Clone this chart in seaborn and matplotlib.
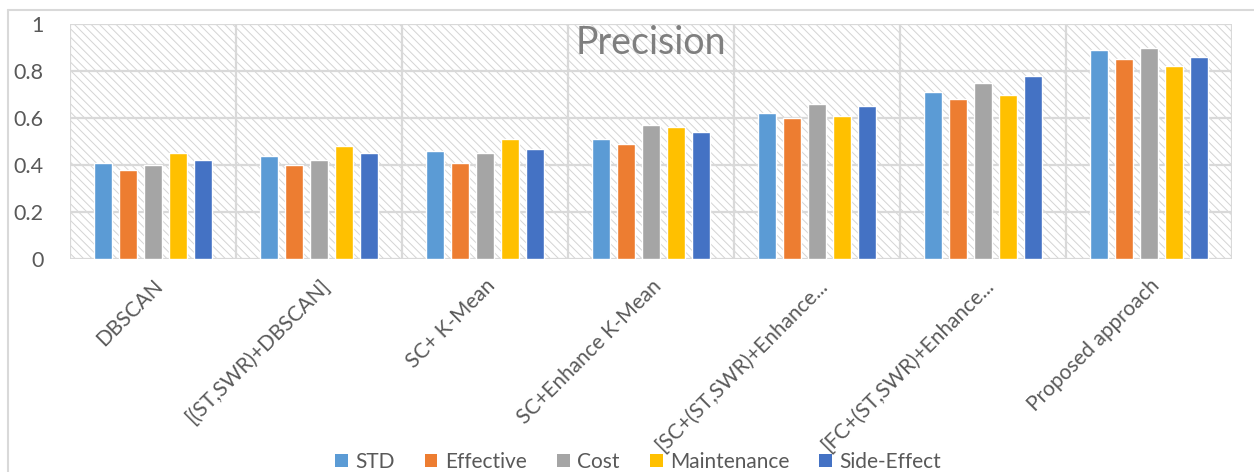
import numpy as np
import pandas as pd
import matplotlib
matplotlib.use("Agg")
import matplotlib.pyplot as plt
from matplotlib.patches import Rectangle
from matplotlib.lines import Line2D
from matplotlib.transforms import ScaledTranslation
import seaborn as sns

methods = [
    "DBSCAN",
    "[(ST,SWR)+DBSCAN]",
    "SC+ K-Mean",
    "SC+Enhance K-Mean",
    "[SC+(ST,SWR)+Enhance...",
    "[FC+(ST,SWR)+Enhance...",
    "Proposed approach",
]
metrics = ["STD", "Effective", "Cost", "Maintenance", "Side-Effect"]
std_vals = [0.41, 0.44, 0.46, 0.51, 0.62, 0.71, 0.89]
effective_vals = [0.38, 0.40, 0.41, 0.49, 0.60, 0.68, 0.85]
cost_vals = [0.40, 0.42, 0.45, 0.57, 0.66, 0.75, 0.90]
maintenance_vals = [0.45, 0.48, 0.51, 0.56, 0.61, 0.70, 0.82]
side_effect_vals = [0.42, 0.45, 0.47, 0.54, 0.65, 0.78, 0.86]
y_ticks = [0, 0.2, 0.4, 0.6, 0.8, 1]
y_tick_labels = ["0", "0.2", "0.4", "0.6", "0.8", "1"]
colors = ["#5B9BD5", "#ED7D31", "#A5A5A5", "#FFC000", "#4472C4"]

series = [std_vals, effective_vals, cost_vals, maintenance_vals, side_effect_vals]
df = pd.DataFrame(
    [(m, metric, v) for metric, vals in zip(metrics, series) for m, v in zip(methods, vals)],
    columns=["method", "metric", "value"],
)

sns.set_theme(style="white")
plt.rcParams["font.family"] = ["Lato", "DejaVu Sans"]
plt.rcParams["hatch.linewidth"] = 0.7
plt.rcParams["hatch.color"] = "#D4D4D4"

text_color = "#595959"
grid_color = "#D9D9D9"

fig = plt.figure(figsize=(12.54, 4.72), dpi=100)
ax = fig.add_axes([70 / 1254, 1 - 259 / 472, (1232 - 70) / 1254, (259 - 24) / 472])

# chart frame
fig.add_artist(Line2D([8 / 1254, 8 / 1254], [0, 1 - 10 / 472], transform=fig.transFigure,
                      color=grid_color, lw=1.5))
fig.add_artist(Line2D([8 / 1254, 1], [1 - 10 / 472, 1 - 10 / 472], transform=fig.transFigure,
                      color=grid_color, lw=1.5))

# hatched plot area
ax.set_facecolor("white")
ax.add_patch(Rectangle((0, 0), 1, 1, transform=ax.transAxes, facecolor="none",
                       edgecolor="#D4D4D4", hatch="\\\\\\\\", lw=0, zorder=0))

sns.barplot(data=df, x="method", y="value", hue="metric", palette=colors,
            width=0.75, gap=0.3, saturation=1, ax=ax, zorder=3, legend=True)

ax.set_xlim(-0.5, len(methods) - 0.5)
ax.set_ylim(0, 1)
ax.set_yticks(y_ticks)
ax.set_yticklabels(y_tick_labels)

# grid lines: horizontal at ticks, vertical at category boundaries
for y in y_ticks:
    ax.axhline(y, color=grid_color, lw=1.6, zorder=1)
for x in np.arange(-0.5, len(methods), 1.0):
    ax.axvline(x, color=grid_color, lw=1.6, zorder=1)
for s in ax.spines.values():
    s.set_visible(False)

ax.set_xlabel("")
ax.set_ylabel("")
ax.set_xticks(range(len(methods)))
ax.set_xticklabels(methods, rotation=45, ha="right", rotation_mode="anchor",
                   fontsize=15, color=text_color)
shift = ScaledTranslation(-4 / 100, 0, fig.dpi_scale_trans)
for lab in ax.get_xticklabels():
    lab.set_transform(lab.get_transform() + shift)
ax.tick_params(axis="x", length=0, pad=12)
ax.tick_params(axis="y", length=0, pad=19, labelsize=15.5, labelcolor=text_color)

ax.text(0.5, 0.918, "Precision", transform=ax.transAxes, ha="center", va="center",
        fontsize=27, color="#7F7F7F", zorder=5)

ax.get_legend().remove()
sq = [Rectangle((0, 0), 1, 1, facecolor=c, edgecolor="none") for c in colors]
fig.legend(sq, metrics, loc="center", bbox_to_anchor=(638 / 1254, 1 - 462 / 472),
           ncol=5, frameon=False, fontsize=15, labelcolor=text_color,
           handlelength=0.62, handleheight=0.62, handletextpad=0.35, columnspacing=1.45)

fig.savefig("out.png", dpi=100, facecolor="white")
